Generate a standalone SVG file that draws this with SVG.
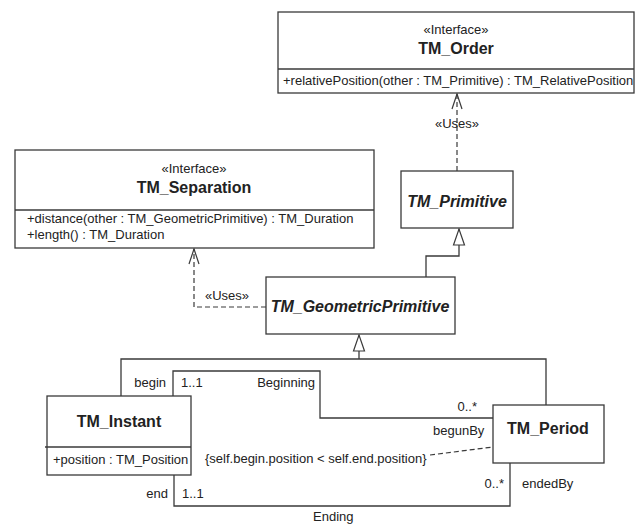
<svg xmlns="http://www.w3.org/2000/svg" width="640" height="524" viewBox="0 0 640 524">
<style>
.box{fill:#fff;stroke:#3a3a3a;stroke-width:1.3}
.ln{fill:none;stroke:#3a3a3a;stroke-width:1.3}
.dash{fill:none;stroke:#3a3a3a;stroke-width:1.2;stroke-dasharray:5,3}
text{font-family:"Liberation Sans",Arial,sans-serif;fill:#222;font-size:13px}
.t{font-weight:bold;font-size:16px;text-anchor:middle}
.ti{font-weight:bold;font-style:italic;font-size:16px;text-anchor:middle}
.c{text-anchor:middle}
.e{text-anchor:end}
</style>
<defs>
<marker id="open" markerUnits="userSpaceOnUse" markerWidth="18" markerHeight="14" viewBox="0 0 18 14" refX="16" refY="7" orient="auto">
<path d="M1,2 L16,7 L1,12" fill="none" stroke="#3a3a3a" stroke-width="1.2"/>
</marker>
<marker id="gen" markerUnits="userSpaceOnUse" markerWidth="20" markerHeight="16" viewBox="0 0 20 16" refX="18" refY="8" orient="auto">
<path d="M2,2.5 L18,8 L2,13.5 Z" fill="#fff" stroke="#3a3a3a" stroke-width="1.2"/>
</marker>
</defs>
<g id="connectors">
<path class="dash" d="M457,171 V94" marker-end="url(#open)"/>
<text class="c" x="457" y="128">«Uses»</text>
<path class="dash" d="M266,307 H194 V249" marker-end="url(#open)"/>
<text class="c" x="227" y="300">«Uses»</text>
<path class="ln" d="M426,277 V256 H459 V229" marker-end="url(#gen)"/>
<path class="ln" d="M121,396 V359 H546 V405"/>
<path class="ln" d="M359,359 V335" marker-end="url(#gen)"/>
<path class="ln" d="M173,396 V371 H320 V418 H493"/>
<path class="ln" d="M174,475 V506 H510 V463"/>
<path class="dash" d="M430,455 L493,447"/>
<text class="e" x="166" y="387">begin</text>
<text x="181" y="387">1..1</text>
<text class="e" x="315" y="387">Beginning</text>
<text class="e" x="477" y="411">0..*</text>
<text x="433" y="435">begunBy</text>
<text x="205" y="463">{self.begin.position &lt; self.end.position}</text>
<text class="e" x="168" y="498">end</text>
<text x="182" y="498">1..1</text>
<text class="e" x="504" y="488">0..*</text>
<text x="522" y="488">endedBy</text>
<text x="313" y="521">Ending</text>
</g>
<g id="TM_Order">
<rect class="box" x="278" y="12" width="356" height="81"/>
<line class="ln" x1="278" y1="69" x2="634" y2="69"/>
<text class="c" x="456" y="34">«Interface»</text>
<text class="t" x="456" y="54">TM_Order</text>
<text x="283" y="85">+relativePosition(other : TM_Primitive) : TM_RelativePosition</text>
</g>
<g id="TM_Separation">
<rect class="box" x="15" y="150" width="359" height="98"/>
<line class="ln" x1="15" y1="210" x2="374" y2="210"/>
<text class="c" x="194" y="173">«Interface»</text>
<text class="t" x="194" y="193">TM_Separation</text>
<text x="27" y="223">+distance(other : TM_GeometricPrimitive) : TM_Duration</text>
<text x="27" y="239">+length() : TM_Duration</text>
</g>
<g id="TM_Primitive">
<rect class="box" x="401" y="171" width="112" height="57"/>
<text class="ti" x="457" y="207">TM_Primitive</text>
</g>
<g id="TM_GeometricPrimitive">
<rect class="box" x="266" y="277" width="189" height="57"/>
<text class="ti" x="360" y="312">TM_GeometricPrimitive</text>
</g>
<g id="TM_Instant">
<rect class="box" x="47" y="396" width="144" height="79"/>
<line class="ln" x1="45" y1="447" x2="191" y2="447"/>
<text class="t" x="119" y="427">TM_Instant</text>
<text x="53" y="464">+position : TM_Position</text>
</g>
<g id="TM_Period">
<rect class="box" x="493" y="405" width="111" height="58"/>
<text class="t" x="548" y="434">TM_Period</text>
</g>
</svg>
